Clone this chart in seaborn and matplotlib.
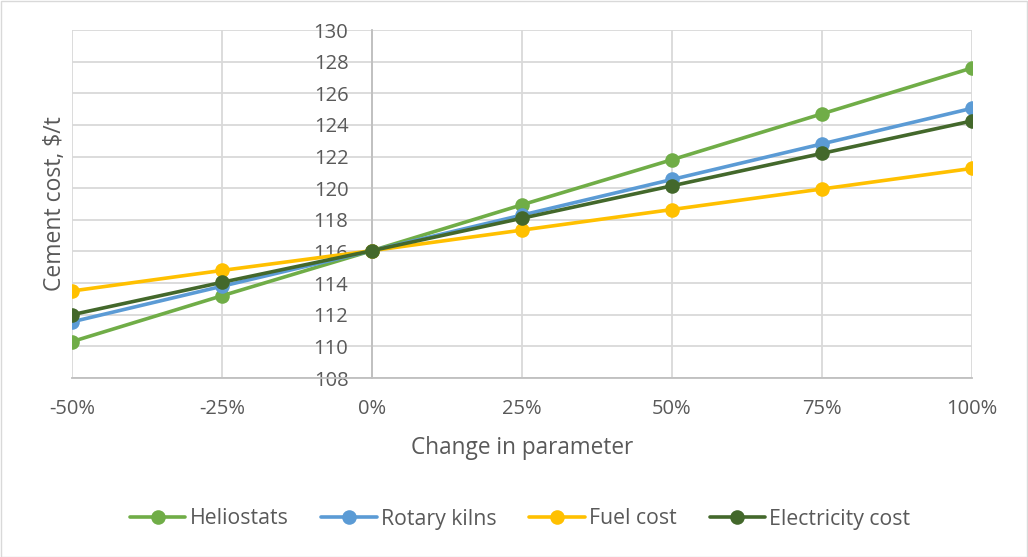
import matplotlib
matplotlib.use("Agg")
import matplotlib.pyplot as plt
import seaborn as sns
import pandas as pd
from matplotlib.patches import Rectangle

# Sensitivity of cement cost to each input parameter
changes = [-50, -25, 0, 25, 50, 75, 100]
change_labels = ["-50%", "-25%", "0%", "25%", "50%", "75%", "100%"]
heliostats = [110.3, 113.2, 116.05, 118.95, 121.8, 124.7, 127.6]
rotary_kilns = [111.55, 113.8, 116.05, 118.3, 120.55, 122.8, 125.05]
fuel_cost = [113.5, 114.8, 116.05, 117.35, 118.65, 119.95, 121.25]
electricity_cost = [112.0, 114.05, 116.05, 118.1, 120.15, 122.2, 124.25]

series_names = ["Heliostats", "Rotary kilns", "Fuel cost", "Electricity cost"]
series_values = [heliostats, rotary_kilns, fuel_cost, electricity_cost]
colors = ["#70AD47", "#5B9BD5", "#FFC000", "#43682B"]

y_ticks = list(range(108, 131, 2))

sns.set_style("white")
plt.rcParams["font.family"] = ["Open Sans", "DejaVu Sans"]
text_color = "#595959"
grid_color = "#D9D9D9"

df = pd.DataFrame({
    "change": changes * len(series_names),
    "cost": [v for vals in series_values for v in vals],
    "series": [n for n in series_names for _ in changes],
})

fig = plt.figure(figsize=(10.28, 5.57), dpi=100)
ax = fig.add_axes([72 / 1028, 1 - 378 / 557, 900 / 1028, 348 / 557])

sns.lineplot(data=df, x="change", y="cost", hue="series", hue_order=series_names,
             palette=colors, marker="o", markersize=10.5, markeredgewidth=0,
             linewidth=2.6, ax=ax, legend=False, zorder=3)

ax.set_xlim(-50, 100)
ax.set_ylim(108, 130)
ax.set_xticks(changes)
ax.set_xticklabels(change_labels)
ax.set_yticks(y_ticks)

ax.grid(True, color=grid_color, linewidth=1.3)
ax.set_axisbelow(True)
for side in ["top", "right"]:
    ax.spines[side].set_visible(False)
ax.spines["left"].set_position(("data", 0))
ax.spines["left"].set_color("#BFBFBF")
ax.spines["bottom"].set_color("#BFBFBF")
ax.spines["left"].set_linewidth(1.3)
ax.spines["bottom"].set_linewidth(1.3)
ax.spines["left"].set_zorder(1)

ax.tick_params(axis="both", length=0, labelsize=14.5, labelcolor=text_color)
ax.tick_params(axis="y", pad=17)
ax.tick_params(axis="x", pad=15)

ax.set_xlabel("Change in parameter", fontsize=16.3, color=text_color)
ax.set_ylabel("Cement cost, $/t", fontsize=16.5, color=text_color)
ax.xaxis.set_label_coords(0.5, -(448 - 378) / 348, transform=ax.transAxes)
ax.yaxis.set_label_coords((55 - 72) / 900, 0.5, transform=ax.transAxes)
ax.xaxis.label.set_va("center")
ax.yaxis.label.set_va("center")

handles = [plt.Line2D([], [], color=c, marker="o", markersize=10.5, markeredgewidth=0,
                      linewidth=2.6) for c in colors]
leg = fig.legend(handles, series_names, loc="center", bbox_to_anchor=(0.506, 1 - 519 / 557),
                 ncol=4, frameon=False, fontsize=15.3, handlelength=2.6,
                 handletextpad=0.2, columnspacing=1.55)
for t in leg.get_texts():
    t.set_color(text_color)

fig.patches.append(Rectangle((0.5 / 1028, 0.5 / 557), 1 - 1.5 / 1028, 1 - 1.5 / 557,
                             transform=fig.transFigure, fill=False,
                             edgecolor="#D9D9D9", linewidth=1.0))

fig.savefig("out.png", dpi=100, facecolor="white")
